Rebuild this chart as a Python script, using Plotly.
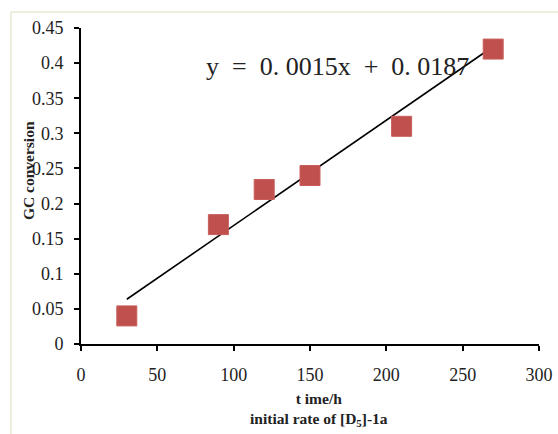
import plotly.graph_objects as go

time_h = [30, 90, 120, 150, 210, 270]
gc_conversion = [0.04, 0.17, 0.22, 0.24, 0.31, 0.42]
slope = 0.0015
intercept = 0.0187
fit_x = [30, 270]
fit_y = [slope * x + intercept for x in fit_x]

fig = go.Figure()
fig.add_trace(go.Scatter(
    x=fit_x, y=fit_y, mode="lines",
    line=dict(color="black", width=1.6), showlegend=False, hoverinfo="skip"))
fig.add_trace(go.Scatter(
    x=time_h, y=gc_conversion, mode="markers",
    marker=dict(symbol="square", size=20, color="#C0504D",
                line=dict(color="#C85E5B", width=1)),
    showlegend=False))

font = "Liberation Serif"
tickfont = dict(family="Times New Roman, Liberation Serif, serif", size=18, color="#222")
fig.update_layout(
    template="none",
    width=558, height=434,
    margin=dict(l=81, r=19, t=28, b=90, autoexpand=False),
    paper_bgcolor="white", plot_bgcolor="white",
    font=dict(family=font, size=17, color="#222"),
    xaxis=dict(range=[0, 300], dtick=50, tick0=0, showgrid=False, zeroline=False,
               automargin=False,
               showline=True, linecolor="black", linewidth=2,
               ticks="outside", ticklen=5, tickwidth=2, tickcolor="black",
               ticklabelstandoff=8, tickfont=tickfont),
    yaxis=dict(range=[0, 0.45], dtick=0.05, tick0=0, showgrid=False, zeroline=False,
               automargin=False,
               showline=True, linecolor="black", linewidth=2,
               ticks="outside", ticklen=5, tickwidth=2, tickcolor="black",
               ticklabelstandoff=7, tickfont=tickfont),
    shapes=[
        dict(type="line", xref="paper", yref="paper", x0=-0.153, x1=-0.153,
             y0=-0.3, y1=1.0506, line=dict(color="#ECECDF", width=2)),
        dict(type="line", xref="paper", yref="paper", x0=-0.153, x1=1.1,
             y0=1.0506, y1=1.0506, line=dict(color="#ECECDF", width=2)),
    ],
    annotations=[
        dict(text="y  =  0. 0015x  +  0. 0187", x=168, y=0.395, xref="x", yref="y",
             showarrow=False, font=dict(family=font, size=26, color="#222")),
        dict(text="GC conversion", textangle=-90, xref="paper", yref="paper",
             x=-0.116, y=0.55, xanchor="center", yanchor="middle", showarrow=False,
             font=dict(family=font, size=15.5, color="#222", weight="bold")),
        dict(text="t ime/h<br>initial rate of [D<sub>5</sub>]-1a", xref="paper", yref="paper",
             x=0.52, y=-0.14, xanchor="center", yanchor="top", showarrow=False,
             font=dict(family=font, size=15.5, color="#222", weight="bold")),
    ],
)
fig.write_html("out.html", config={"displayModeBar": False},
               post_script="document.body.style.margin='0';document.body.style.overflow='hidden';")
